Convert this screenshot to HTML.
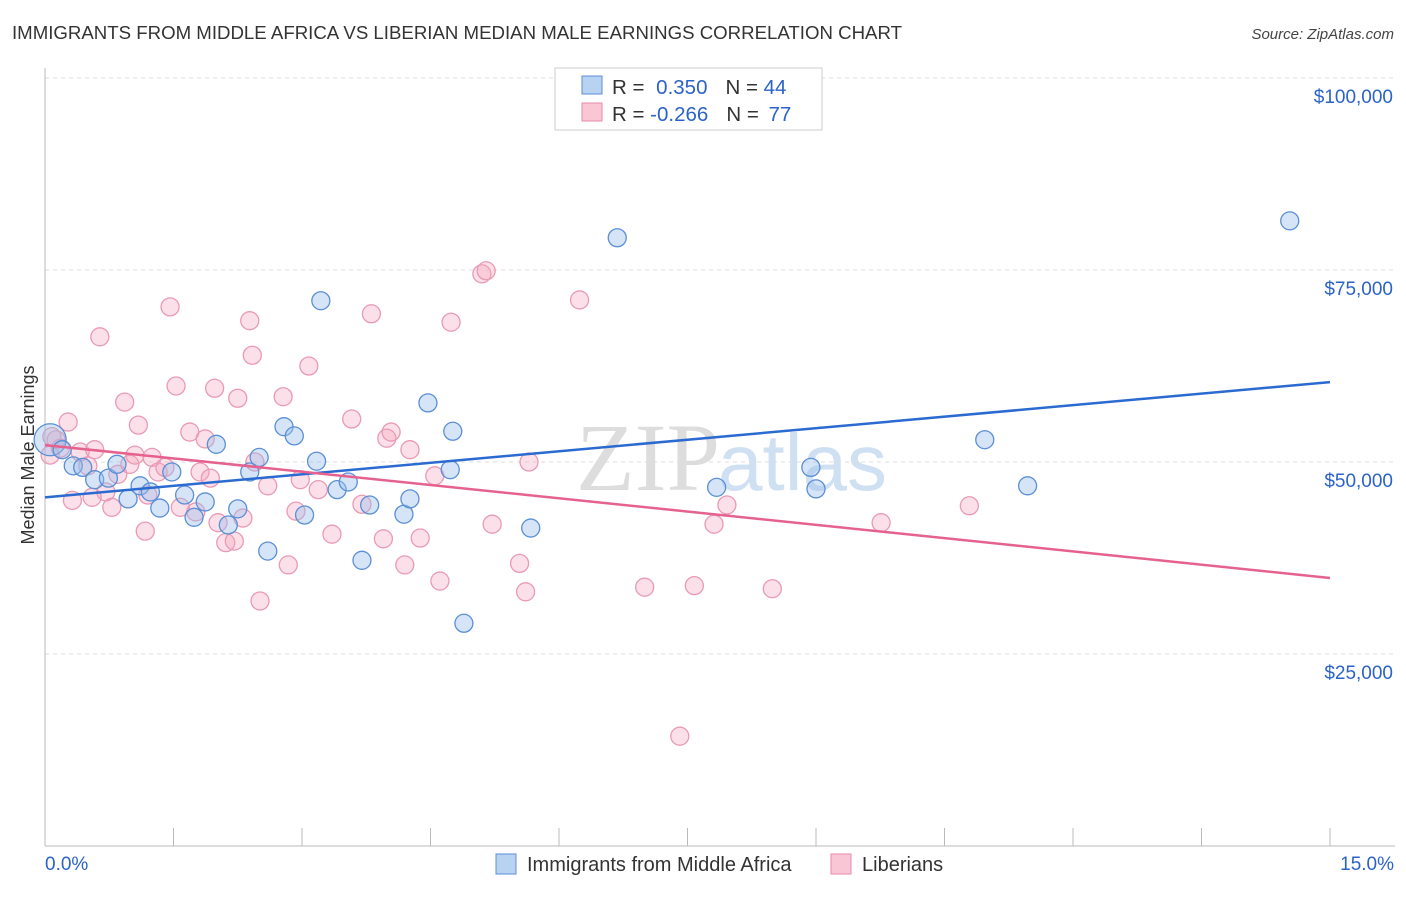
<!DOCTYPE html>
<html><head><meta charset="utf-8"><style>
body{margin:0;background:#fff;font-family:"Liberation Sans",sans-serif}
</style></head><body>
<svg id="chart" width="1406" height="892" xmlns="http://www.w3.org/2000/svg" font-family="Liberation Sans, sans-serif">
<text x="12" y="39" font-size="18" fill="#333" textLength="890" lengthAdjust="spacingAndGlyphs">IMMIGRANTS FROM MIDDLE AFRICA VS LIBERIAN MEDIAN MALE EARNINGS CORRELATION CHART</text>
<text x="1394" y="39" font-size="15" fill="#444" text-anchor="end" font-style="italic">Source: ZipAtlas.com</text>
<text x="720" y="490" font-size="96" fill="#ddd" text-anchor="end" font-family="Liberation Serif, serif">ZIP</text>
<text x="718" y="490" font-size="80" fill="#cfe0f3">atlas</text>
<g id="grid"></g>
<g id="axes"></g>
<g id="marks"></g>
<text transform="translate(34,455) rotate(-90)" font-size="18" fill="#333" text-anchor="middle">Median Male Earnings</text>
<g>
<rect x="555" y="68" width="267" height="62" fill="#fff" stroke="#ccc"/>
<rect x="582" y="76" width="20" height="18" fill="#b8d2f2" stroke="#5b8fd6"/>
<rect x="582" y="103" width="20" height="18" fill="#f9c6d6" stroke="#e88aa8"/>
<text x="612" y="94" font-size="20.5" fill="#333">R = <tspan fill="#2b63c9" dx="6">0.350</tspan><tspan fill="#333" dx="18">N = </tspan><tspan fill="#2b63c9">44</tspan></text>
<text x="612" y="121" font-size="20.5" fill="#333">R = <tspan fill="#2b63c9">-0.266</tspan><tspan fill="#333" dx="18">N = </tspan><tspan fill="#2b63c9" dx="4">77</tspan></text>
</g>
<g>
<rect x="496" y="854" width="20" height="20" fill="#b8d2f2" stroke="#5b8fd6"/>
<text x="527" y="871" font-size="20" fill="#333">Immigrants from Middle Africa</text>
<rect x="831" y="854" width="20" height="20" fill="#f9c6d6" stroke="#e88aa8"/>
<text x="862" y="871" font-size="20" fill="#333">Liberians</text>
</g>
</svg>
<script>
const blueX=[0.06,0.20,0.33,0.44,0.58,0.74,0.84,0.97,1.11,1.23,1.34,1.48,1.63,1.74,1.87,2.00,2.14,2.25,2.39,2.50,2.60,2.79,2.91,3.03,3.17,3.22,3.41,3.54,3.70,3.79,4.19,4.26,4.47,4.73,4.76,4.89,5.67,6.68,7.84,8.94,9.00,10.97,11.47,14.53];
const blueY=[52.9,51.6,49.5,49.3,47.7,47.9,49.7,45.2,46.9,46.1,44.0,48.7,45.7,42.8,44.8,52.3,41.8,43.9,48.7,50.6,38.4,54.6,53.4,43.1,50.1,71.0,46.4,47.4,37.2,44.4,43.2,45.2,57.7,49.0,54.0,29.0,41.4,79.2,46.7,49.3,46.5,52.9,46.9,81.4];
const pinkX=[0.06,0.13,0.18,0.27,0.32,0.41,0.50,0.58,0.64,0.71,0.78,0.85,0.93,0.99,1.09,1.17,1.25,1.32,1.40,1.46,1.53,1.58,1.69,1.76,1.81,1.87,1.98,2.02,2.11,2.21,2.25,2.31,2.39,2.42,2.51,2.60,2.78,2.84,2.93,2.98,3.08,3.19,3.35,3.58,3.70,3.81,3.95,3.99,4.04,4.20,4.26,4.38,4.55,4.61,4.74,5.10,5.15,5.22,5.54,5.61,5.65,6.24,7.00,7.41,7.58,7.81,7.96,8.49,9.76,10.79,0.08,0.55,1.05,1.20,2.45,1.93];
const pinkY=[50.9,52.9,51.8,55.2,45.0,51.3,49.5,51.6,66.3,46.1,44.1,48.4,57.8,49.7,54.8,41.0,50.6,48.7,49.3,70.2,59.9,44.1,53.9,43.5,48.7,53.0,59.6,42.1,39.5,39.7,58.3,42.7,68.4,63.9,31.9,46.9,58.5,36.6,43.6,47.7,62.5,46.4,40.6,55.6,44.5,69.3,40.0,53.1,53.9,36.6,51.6,40.1,48.2,34.5,68.2,74.5,74.9,41.9,36.8,33.1,50.0,71.1,33.7,14.3,33.9,41.9,44.4,33.5,42.1,44.3,53.3,45.4,50.9,45.7,50.0,47.9];
const blueTrend=[45.4,60.4];
const pinkTrend=[52.2,34.9];
const yTicks=[25,50,75,100];
const yTickLabels=["$25,000","$50,000","$75,000","$100,000"];
const xTicks=[0,1.5,3,4.5,6,7.5,9,10.5,12,13.5,15];
const xEdgeLabels=["0.0%","15.0%"];

const NS="http://www.w3.org/2000/svg";
const X0=45,X1=1330,Y0=846;
const sx=v=>X0+(v/15)*(X1-X0);
const sy=v=>Y0-v*(192/25);
function mk(tag,attrs,parent){const e=document.createElementNS(NS,tag);for(const k in attrs)e.setAttribute(k,attrs[k]);parent.appendChild(e);return e;}
const grid=document.getElementById('grid'),axes=document.getElementById('axes'),marks=document.getElementById('marks');
yTicks.forEach((t,i)=>{
 const l=mk('line',{x1:X0,x2:1395,y1:sy(t),y2:sy(t),stroke:'#ddd','stroke-dasharray':'4,4'},grid);
 
 
 const tx=mk('text',{x:1393,y:sy(t)+25,'font-size':19,fill:'#2b63c9','text-anchor':'end'},axes);
 tx.textContent=yTickLabels[i];
 
 
});
const ax=mk('line',{x1:X0,x2:1395,y1:Y0,y2:Y0,stroke:'#bbb'},axes);


const ay=mk('line',{x1:X0,x2:X0,y1:68,y2:Y0,stroke:'#bbb'},axes);


xTicks.forEach(t=>{
 const l=mk('line',{x1:sx(t),x2:sx(t),y1:828,y2:Y0,stroke:'#bbb'},axes);
 
 
});
const xl0=mk('text',{x:45,y:870,'font-size':19,fill:'#2b63c9'},axes);xl0.textContent=xEdgeLabels[0];


const xl1=mk('text',{x:1394,y:870,'font-size':19,fill:'#2b63c9','text-anchor':'end'},axes);xl1.textContent=xEdgeLabels[1];


pinkX.forEach((x,i)=>{
 const c=mk('circle',{cx:sx(x),cy:sy(pinkY[i]),r:9,fill:'rgba(245,165,192,0.35)',stroke:'#e99ab4','stroke-width':1.3},marks);
 
 
});
blueX.forEach((x,i)=>{
 const c=mk('circle',{cx:sx(x),cy:sy(blueY[i]),r:i===0?16:9,fill:'rgba(150,190,235,0.4)',stroke:'#5b8fd6','stroke-width':1.3},marks);
 
 
});
const bt=mk('line',{x1:sx(0),x2:sx(15),y1:sy(blueTrend[0]),y2:sy(blueTrend[1]),stroke:'#2b6bd1','stroke-width':2.5},marks);


const pt=mk('line',{x1:sx(0),x2:sx(15),y1:sy(pinkTrend[0]),y2:sy(pinkTrend[1]),stroke:'#e5628f','stroke-width':2.5},marks);


</script>
</body></html>
